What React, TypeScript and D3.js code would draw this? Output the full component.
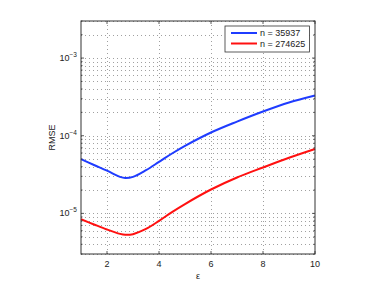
import * as d3 from 'd3';
import { useEffect, useRef } from 'react';

// epsilon values and RMSE
const eps = [1, 1.5, 2, 2.5, 2.7, 3, 3.5, 4, 4.5, 5, 6, 7, 8, 9, 10];
const rmseSmall = [5.0e-5, 4.2e-5, 3.55e-5, 2.95e-5, 2.85e-5, 2.95e-5, 3.6e-5, 4.6e-5, 5.9e-5, 7.4e-5, 1.1e-4, 1.52e-4, 2.05e-4, 2.68e-4, 3.3e-4];
const rmseLarge = [8.4e-6, 7.2e-6, 6.2e-6, 5.45e-6, 5.3e-6, 5.4e-6, 6.3e-6, 8.0e-6, 1.04e-5, 1.32e-5, 2.03e-5, 2.9e-5, 3.9e-5, 5.2e-5, 6.75e-5];
const seriesNames = ['n = 35937', 'n = 274625'];
const seriesColors = ['#1f3cff', '#ff1010'];
const xTicks = [2, 4, 6, 8, 10];
const yTicks = [1e-5, 1e-4, 1e-3];

export default function App() {
    const ref = useRef(null);

    useEffect(() => {
        const width = 382;
        const height = 287;
        const margin = { top: 21, right: 67, bottom: 33, left: 81 };
        const w = width - margin.left - margin.right;
        const h = height - margin.top - margin.bottom;

        const root = d3.select(ref.current);
        root.selectAll('*').remove();

        const svg = root
            .append('svg')
            .attr('width', width)
            .attr('height', height)
            .style('display', 'block')
            .style('font-family', 'Liberation Sans, Arial, sans-serif');

        const g = svg.append('g').attr('transform', `translate(${margin.left},${margin.top})`);

        const x = d3.scaleLinear().domain([1, 10]).range([0, w]);
        const y = d3.scaleLog().domain([3e-6, 3e-3]).range([h, 0]);

        // minor log positions for grid
        const minor: number[] = [];
        for (let e = -6; e <= -3; e++) {
            for (let k = 1; k <= 9; k++) {
                const v = k * Math.pow(10, e);
                if (v >= 3e-6 && v <= 3e-3) minor.push(v);
            }
        }

        // grid lines (dotted)
        g.append('g')
            .selectAll('line')
            .data(minor)
            .join('line')
            .attr('x1', 0)
            .attr('x2', w)
            .attr('y1', (d) => Math.round(y(d)) + 0.5)
            .attr('y2', (d) => Math.round(y(d)) + 0.5)
            .attr('stroke', '#888')
            .attr('stroke-width', 0.8)
            .attr('stroke-dasharray', '1,3');

        g.append('g')
            .selectAll('line')
            .data(xTicks.filter((d) => d < 10))
            .join('line')
            .attr('x1', (d) => Math.round(x(d)) + 0.5)
            .attr('x2', (d) => Math.round(x(d)) + 0.5)
            .attr('y1', 0)
            .attr('y2', h)
            .attr('stroke', '#888')
            .attr('stroke-width', 0.8)
            .attr('stroke-dasharray', '1,3');

        // lines
        const line = d3
            .line<[number, number]>()
            .x((d) => x(d[0]))
            .y((d) => y(d[1]))
            .curve(d3.curveCatmullRom.alpha(0.5));

        [rmseSmall, rmseLarge].forEach((vals, i) => {
            g.append('path')
                .datum(eps.map((e, j) => [e, vals[j]] as [number, number]))
                .attr('d', line)
                .attr('fill', 'none')
                .attr('stroke', seriesColors[i])
                .attr('stroke-width', 2);
        });

        // box
        g.append('rect')
            .attr('x', 0)
            .attr('y', 0)
            .attr('width', w)
            .attr('height', h)
            .attr('fill', 'none')
            .attr('stroke', '#333')
            .attr('stroke-width', 1);

        // ticks inside
        const tickG = g.append('g').attr('stroke', '#333').attr('stroke-width', 0.8);
        xTicks.forEach((t) => {
            tickG.append('line').attr('x1', x(t)).attr('x2', x(t)).attr('y1', h).attr('y2', h - 3);
            tickG.append('line').attr('x1', x(t)).attr('x2', x(t)).attr('y1', 0).attr('y2', 3);
        });
        minor.forEach((t) => {
            const len = yTicks.includes(t) ? 3 : 1.5;
            tickG.append('line').attr('x1', 0).attr('x2', len).attr('y1', y(t)).attr('y2', y(t));
            tickG.append('line').attr('x1', w).attr('x2', w - len).attr('y1', y(t)).attr('y2', y(t));
        });

        // x tick labels
        g.append('g')
            .selectAll('text')
            .data(xTicks)
            .join('text')
            .attr('x', (d) => x(d))
            .attr('y', h + 13)
            .attr('text-anchor', 'middle')
            .attr('font-size', 9)
            .attr('fill', '#222')
            .text((d) => d);

        // y tick labels 10^k
        yTicks.forEach((t) => {
            const txt = g.append('text')
                .attr('x', -4)
                .attr('y', y(t) + 3)
                .attr('text-anchor', 'end')
                .attr('font-size', 9)
                .attr('fill', '#222');
            txt.append('tspan').text('10');
            txt.append('tspan')
                .attr('dy', -4)
                .attr('font-size', 6.5)
                .text(String(Math.round(Math.log10(t))).replace('-', '\u2212'));
        });

        // axis labels
        g.append('text')
            .attr('transform', `translate(${-26},${h / 2}) rotate(-90)`)
            .attr('text-anchor', 'middle')
            .attr('font-size', 9)
            .attr('fill', '#222')
            .text('RMSE');

        g.append('text')
            .attr('x', w / 2)
            .attr('y', h + 25)
            .attr('text-anchor', 'middle')
            .attr('font-size', 9)
            .attr('fill', '#222')
            .text('ε');

        // legend
        const lg = g.append('g').attr('transform', `translate(${w - 90},${5})`);
        lg.append('rect')
            .attr('x', 0)
            .attr('y', 0)
            .attr('width', 84.5)
            .attr('height', 26)
            .attr('fill', '#fff')
            .attr('stroke', '#333')
            .attr('stroke-width', 0.8);
        seriesNames.forEach((name, i) => {
            const yy = 7 + i * 10.5;
            lg.append('line')
                .attr('x1', 6)
                .attr('x2', 32)
                .attr('y1', yy)
                .attr('y2', yy)
                .attr('stroke', seriesColors[i])
                .attr('stroke-width', 2);
            lg.append('text')
                .attr('x', 35)
                .attr('y', yy + 3)
                .attr('font-size', 9)
                .attr('fill', '#222')
                .text(name);
        });

        return () => {
            d3.select(ref.current).selectAll('*').remove();
        };
    }, []);

    return <div ref={ref} style={{ margin: -8 }}></div>;
}
